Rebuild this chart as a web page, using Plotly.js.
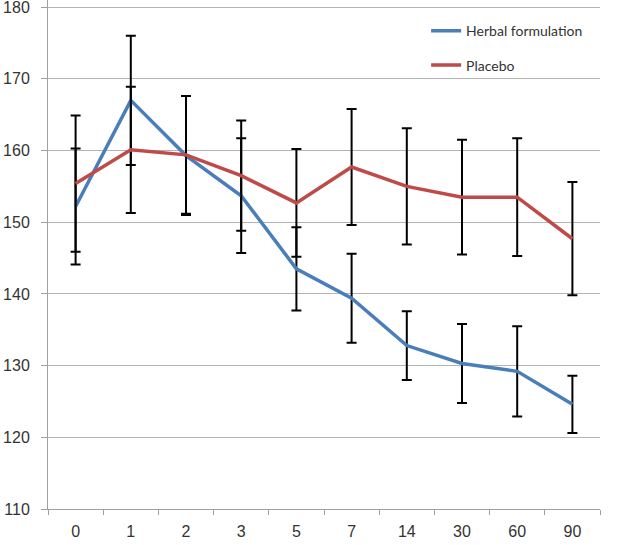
<!DOCTYPE html>
<html>
<head>
<meta charset="utf-8">
<script src="https://cdn.plot.ly/plotly-3.0.1.min.js"></script>
<style>html,body{margin:0;padding:0;background:#fff;}#chart{width:620px;height:545px;}</style>
</head>
<body>
<div id="chart"></div>
<script>
const days = ['0','1','2','3','5','7','14','30','60','90'];
const herbal = [152.2, 167.0, 159.3, 153.7, 143.5, 139.4, 132.8, 130.3, 129.2, 124.6];
const herbalErr = [8.1, 9.0, 8.3, 8.0, 5.8, 6.2, 4.8, 5.5, 6.3, 4.0];
const placebo = [155.4, 160.1, 159.4, 156.5, 152.7, 157.7, 155.0, 153.5, 153.5, 147.7];
const placeboErr = [9.5, 8.8, 8.2, 7.7, 7.5, 8.1, 8.1, 8.0, 8.2, 7.9];
const seriesNames = ['Herbal formulation', 'Placebo'];
const yTicks = [110, 120, 130, 140, 150, 160, 170, 180];

const errStyle = {type:'data', visible:true, color:'#000000', thickness:2, width:5};

const traces = [
  {x: days, y: herbal, name: seriesNames[0], type:'scatter', mode:'lines', legendgroup:'a',
   line:{color:'#4a7ebb', width:3.5},
   error_y: Object.assign({array: herbalErr}, errStyle)},
  {x: days, y: placebo, name: seriesNames[1], type:'scatter', mode:'lines', legendgroup:'b',
   line:{color:'#be4b48', width:3.5},
   error_y: Object.assign({array: placeboErr}, errStyle)}
];

const layout = {
  width:620, height:545,
  margin:{l:48, r:20, t:0, b:36},
  paper_bgcolor:'#ffffff', plot_bgcolor:'#ffffff',
  showlegend:true,
  legend:{x:0.685, y:0.97, xanchor:'left', yanchor:'top', traceorder:'grouped', tracegroupgap:13,
    bgcolor:'rgba(255,255,255,0)', font:{family:'Lato, "Open Sans", sans-serif', size:14, color:'#333333'}},
  xaxis:{type:'category', showline:true, linecolor:'#a0a0a0', linewidth:1,
    ticks:'outside', tickson:'boundaries', ticklen:5, tickcolor:'#a0a0a0', ticklabelstandoff:8,
    showgrid:false, tickfont:{family:'"Liberation Sans", Arial, sans-serif', size:16, color:'#333333'},
    range:[-0.5, 9.5]},
  yaxis:{range:[110,181], tickmode:'array', tickvals:yTicks, ticktext:yTicks.map(String),
    ticklabeloverflow:'allow',
    showline:true, linecolor:'#a0a0a0', linewidth:1,
    ticks:'outside', ticklen:6, tickcolor:'#a0a0a0', ticklabelstandoff:8, showgrid:true, gridcolor:'#b4b4b4', gridwidth:1,
    zeroline:false, tickfont:{family:'"Liberation Sans", Arial, sans-serif', size:16, color:'#333333'}}
};

Plotly.newPlot('chart', traces, layout, {displayModeBar:false, staticPlot:true});
</script>
</body>
</html>
